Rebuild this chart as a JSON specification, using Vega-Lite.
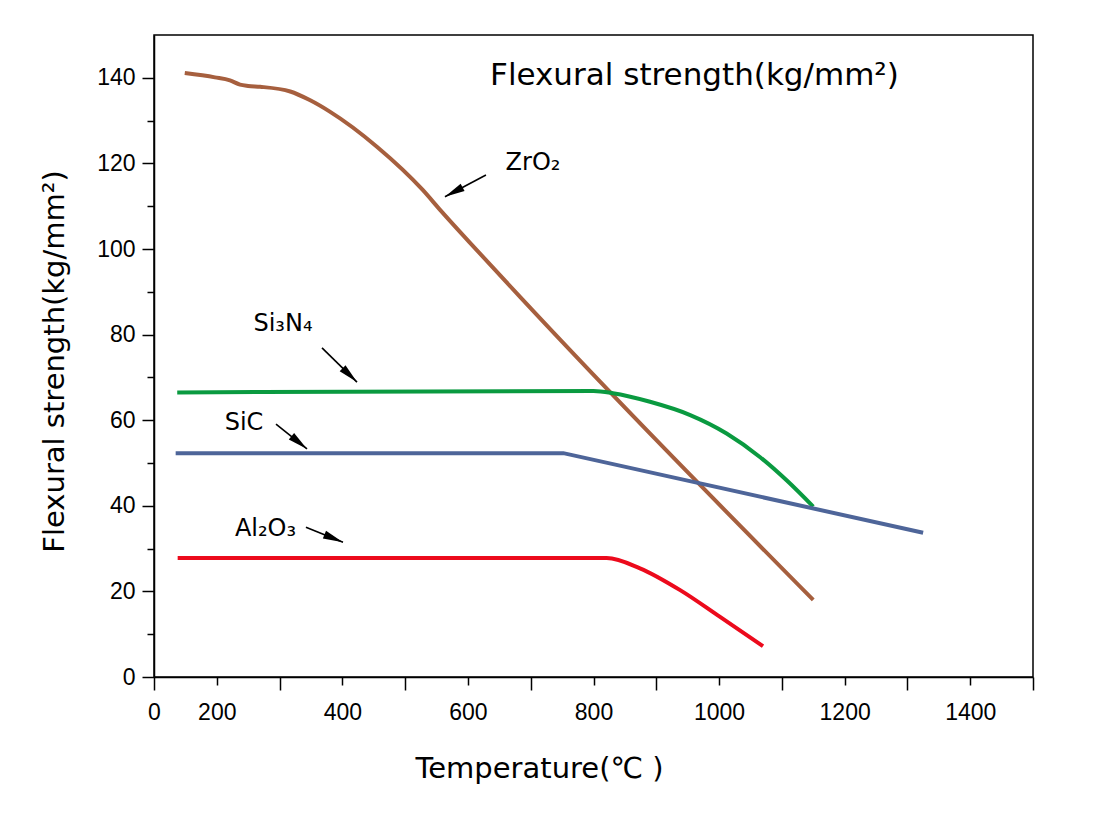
{
  "$schema": "https://vega.github.io/schema/vega-lite/v6.json",
  "width": 879,
  "height": 642,
  "autosize": {"type": "none"},
  "padding": {"left": 154, "top": 35, "right": 63, "bottom": 145},
  "background": "white",
  "config": {
    "view": {"stroke": "black", "strokeWidth": 1.5},
    "axis": {
      "grid": false,
      "domainColor": "black",
      "domainWidth": 1.5,
      "tickColor": "black",
      "tickWidth": 1.5,
      "labelColor": "black",
      "labelFont": "Liberation Sans",
      "labelFontSize": 23,
      "labelFlush": false,
      "labelOverlap": false,
      "titleFont": "DejaVu Sans",
      "titleFontSize": 29,
      "titleFontWeight": "normal",
      "titleColor": "black"
    }
  },
  "datasets": {
    "curves": [
      {"series": "ZrO2", "t": 149, "s": 141.1},
      {"series": "ZrO2", "t": 197, "s": 140.1},
      {"series": "ZrO2", "t": 221, "s": 139.4},
      {"series": "ZrO2", "t": 237, "s": 138.4},
      {"series": "ZrO2", "t": 250, "s": 138.1},
      {"series": "ZrO2", "t": 269, "s": 137.9},
      {"series": "ZrO2", "t": 317, "s": 136.8},
      {"series": "ZrO2", "t": 348, "s": 134.8},
      {"series": "ZrO2", "t": 380, "s": 132.1},
      {"series": "ZrO2", "t": 455, "s": 123.9},
      {"series": "ZrO2", "t": 528, "s": 113.8},
      {"series": "ZrO2", "t": 556, "s": 109.1},
      {"series": "ZrO2", "t": 603, "s": 101.5},
      {"series": "ZrO2", "t": 683, "s": 88.8},
      {"series": "ZrO2", "t": 1150, "s": 18.0},
      {"series": "Si3N4", "t": 137, "s": 66.5},
      {"series": "Si3N4", "t": 800, "s": 66.8},
      {"series": "Si3N4", "t": 831, "s": 66.3},
      {"series": "Si3N4", "t": 890, "s": 64.3},
      {"series": "Si3N4", "t": 954, "s": 61.2},
      {"series": "Si3N4", "t": 1012, "s": 56.9},
      {"series": "Si3N4", "t": 1066, "s": 51.3},
      {"series": "Si3N4", "t": 1108, "s": 45.9},
      {"series": "Si3N4", "t": 1150, "s": 39.8},
      {"series": "SiC", "t": 134.5, "s": 52.3},
      {"series": "SiC", "t": 752, "s": 52.3},
      {"series": "SiC", "t": 1325, "s": 33.7},
      {"series": "Al2O3", "t": 137.7, "s": 27.8},
      {"series": "Al2O3", "t": 821, "s": 27.8},
      {"series": "Al2O3", "t": 874, "s": 25.4},
      {"series": "Al2O3", "t": 938, "s": 20.3},
      {"series": "Al2O3", "t": 1001, "s": 14.1},
      {"series": "Al2O3", "t": 1070, "s": 7.2}
    ],
    "arrows": [
      {"label": "ZrO2", "x1": 628.7, "y1": 117.3, "x2": 563.4, "y2": 112.2},
      {"label": "Si3N4", "x1": 367.6, "y1": 76.9, "x2": 423.3, "y2": 68.9},
      {"label": "SiC", "x1": 294.3, "y1": 59.1, "x2": 343.7, "y2": 53.3},
      {"label": "Al2O3", "x1": 342.0, "y1": 35.0, "x2": 401.0, "y2": 31.5}
    ],
    "labels": [
      {"text": "ZrO₂", "x": 703.6, "y": 118.5},
      {"text": "Si₃N₄", "x": 305.4, "y": 80.8},
      {"text": "SiC", "x": 243.3, "y": 57.8},
      {"text": "Al₂O₃", "x": 277.6, "y": 32.9}
    ],
    "title": [
      {"text": "Flexural strength(kg/mm²)", "x": 960.8, "y": 138.3}
    ]
  },
  "layer": [
    {
      "data": {"name": "curves"},
      "transform": [{"filter": "datum.series != 'SiC'"}],
      "mark": {"type": "line", "interpolate": "monotone", "strokeWidth": 4, "strokeCap": "butt"},
      "encoding": {
        "x": {
          "field": "t", "type": "quantitative",
          "scale": {"domain": [100, 1500], "nice": false, "zero": false},
          "axis": {
            "values": [100, 200, 300, 400, 500, 600, 700, 800, 900, 1000, 1100, 1200, 1300, 1400, 1500],
            "format": "d",
            "labelExpr": "datum.value == 100 ? '0' : (datum.value % 200 == 0 ? datum.label : '')",
            "tickSize": {"condition": {"test": "datum.value % 200 == 0", "value": 8}, "value": 13},
            "labelPadding": {"condition": {"test": "datum.value % 200 == 0", "value": 16}, "value": 11},
            "title": "Temperature(℃ )",
            "titleX": 385,
            "titleY": 100,
            "titleAlign": "center",
            "titleBaseline": "alphabetic"
          }
        },
        "y": {
          "field": "s", "type": "quantitative",
          "scale": {"domain": [0, 150], "nice": false, "zero": false},
          "axis": {
            "values": [0, 10, 20, 30, 40, 50, 60, 70, 80, 90, 100, 110, 120, 130, 140],
            "labelExpr": "datum.value % 20 == 0 ? datum.label : ''",
            "tickSize": {"condition": {"test": "datum.value % 20 != 0", "value": 7}, "value": 12},
            "labelPadding": 7,
            "title": "Flexural strength(kg/mm²)",
            "titleX": -91,
            "titleY": 326,
            "titleAlign": "center",
            "titleBaseline": "alphabetic"
          }
        },
        "color": {
          "field": "series", "type": "nominal",
          "scale": {"domain": ["ZrO2", "Si3N4", "SiC", "Al2O3"], "range": ["#A65F3E", "#0A9A40", "#4E6599", "#EC0A1C"]},
          "legend": null
        }
      }
    },
    {
      "data": {"name": "curves"},
      "transform": [{"filter": "datum.series == 'SiC'"}],
      "mark": {"type": "line", "interpolate": "linear", "strokeWidth": 4, "strokeCap": "butt"},
      "encoding": {
        "x": {"field": "t", "type": "quantitative"},
        "y": {"field": "s", "type": "quantitative"},
        "color": {"field": "series", "type": "nominal", "legend": null}
      }
    },
    {
      "data": {"name": "arrows"},
      "mark": {"type": "rule", "color": "black", "strokeWidth": 1.6},
      "encoding": {
        "x": {"field": "x1", "type": "quantitative"},
        "y": {"field": "y1", "type": "quantitative"},
        "x2": {"field": "x2"},
        "y2": {"field": "y2"}
      }
    },
    {
      "data": {"name": "arrows"},
      "transform": [{"filter": "datum.label == 'ZrO2'"}],
      "mark": {"type": "point", "shape": "M0,0L0.42,2L-0.42,2Z", "filled": true, "color": "black", "opacity": 1, "size": 400, "strokeWidth": 0, "angle": 242},
      "encoding": {
        "x": {"field": "x2", "type": "quantitative"},
        "y": {"field": "y2", "type": "quantitative"}
      }
    },
    {
      "data": {"name": "arrows"},
      "transform": [{"filter": "datum.label == 'Si3N4'"}],
      "mark": {"type": "point", "shape": "M0,0L0.42,2L-0.42,2Z", "filled": true, "color": "black", "opacity": 1, "size": 400, "strokeWidth": 0, "angle": 134},
      "encoding": {
        "x": {"field": "x2", "type": "quantitative"},
        "y": {"field": "y2", "type": "quantitative"}
      }
    },
    {
      "data": {"name": "arrows"},
      "transform": [{"filter": "datum.label == 'SiC'"}],
      "mark": {"type": "point", "shape": "M0,0L0.42,2L-0.42,2Z", "filled": true, "color": "black", "opacity": 1, "size": 400, "strokeWidth": 0, "angle": 129},
      "encoding": {
        "x": {"field": "x2", "type": "quantitative"},
        "y": {"field": "y2", "type": "quantitative"}
      }
    },
    {
      "data": {"name": "arrows"},
      "transform": [{"filter": "datum.label == 'Al2O3'"}],
      "mark": {"type": "point", "shape": "M0,0L0.42,2L-0.42,2Z", "filled": true, "color": "black", "opacity": 1, "size": 400, "strokeWidth": 0, "angle": 112},
      "encoding": {
        "x": {"field": "x2", "type": "quantitative"},
        "y": {"field": "y2", "type": "quantitative"}
      }
    },
    {
      "data": {"name": "labels"},
      "mark": {"type": "text", "font": "DejaVu Sans", "fontSize": 24, "align": "center", "baseline": "alphabetic", "color": "black"},
      "encoding": {
        "x": {"field": "x", "type": "quantitative"},
        "y": {"field": "y", "type": "quantitative"},
        "text": {"field": "text"}
      }
    },
    {
      "data": {"name": "title"},
      "mark": {"type": "text", "font": "DejaVu Sans", "fontSize": 31, "align": "center", "baseline": "alphabetic", "color": "black"},
      "encoding": {
        "x": {"field": "x", "type": "quantitative"},
        "y": {"field": "y", "type": "quantitative"},
        "text": {"field": "text"}
      }
    }
  ]
}
